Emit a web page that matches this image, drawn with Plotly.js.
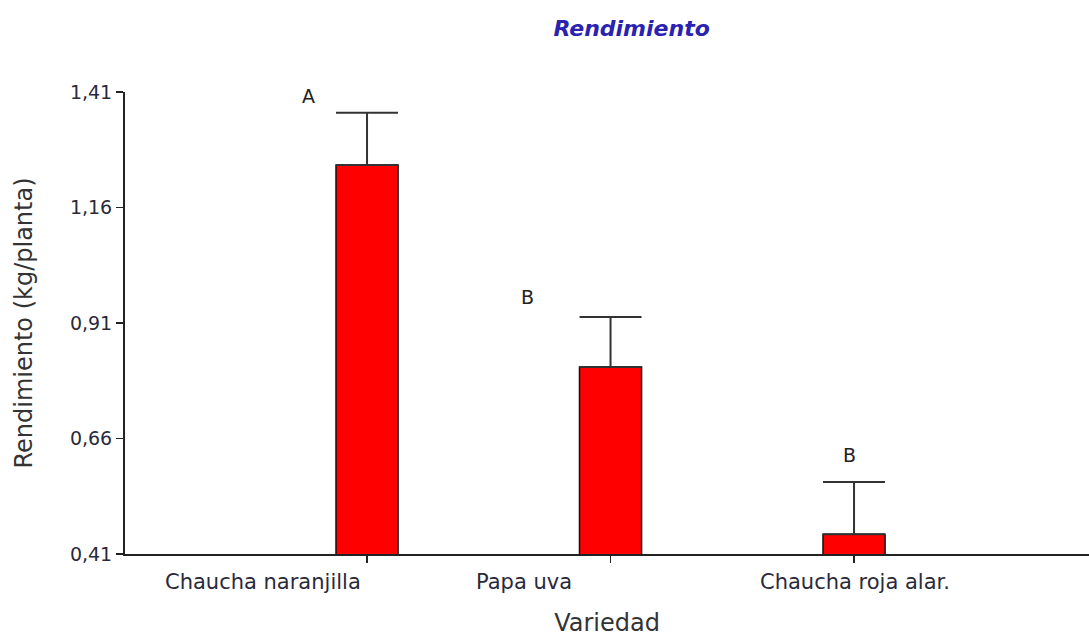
<!DOCTYPE html>
<html>
<head>
<meta charset="utf-8">
<script src="https://cdn.plot.ly/plotly-3.0.1.min.js"></script>
<style>html,body{margin:0;padding:0;background:#fff;}#chart{width:1089px;height:637px;}</style>
</head>
<body>
<div id="chart"></div>
<script>
const categories = ["Chaucha naranjilla", "Papa uva", "Chaucha roja alar."];
const means = [1.252, 0.815, 0.453];
const errors = [0.113, 0.108, 0.113];
const letters = ["A", "B", "B"];
const letterY = [1.401, 0.966, 0.624];
const yTicks = [0.41, 0.66, 0.91, 1.16, 1.41];
const yTickText = ["0,41", "0,66", "0,91", "1,16", "1,41"];

const FONT = "DejaVu Sans, Verdana, sans-serif";
const letterShift = [-59, -83, -5];
const labelShift = [-104, -87, 1];

const annotations = [];
letters.forEach((t, i) => {
  annotations.push({x: categories[i], y: letterY[i], xref: 'x', yref: 'y', text: t,
    showarrow: false, xshift: letterShift[i], font: {family: FONT, size: 19, color: '#222'}});
});
categories.forEach((c, i) => {
  annotations.push({x: c, y: 0, xref: 'x', yref: 'paper', text: c, showarrow: false,
    xshift: labelShift[i], yshift: -28, yanchor: 'middle',
    font: {family: FONT, size: 21, color: '#2a2a3a'}});
});

const trace = {
  type: 'bar', x: categories, y: means, base: 0,
  width: 0.255,
  marker: {color: '#ff0000', line: {color: '#111', width: 1.5}},
  error_y: {type: 'data', symmetric: false, array: errors, arrayminus: [0,0,0],
    color: '#333', thickness: 2, width: 31},
  hoverinfo: 'skip'
};

const layout = {
  width: 1089, height: 637,
  margin: {l: 125, r: 0, t: 92, b: 83},
  paper_bgcolor: '#fff', plot_bgcolor: '#fff',
  showlegend: false,
  title: {text: '<b><i>Rendimiento</i></b>', x: 0.58, xanchor: 'center', y: 0.955, yanchor: 'middle',
    font: {family: FONT, size: 22, color: '#2a22b0'}},
  xaxis: {
    type: 'category', range: [-0.994, 2.965],
    showline: true, linecolor: '#222', linewidth: 2,
    ticks: 'outside', ticklen: 7, tickwidth: 1.5, tickcolor: '#222',
    showticklabels: false, showgrid: false, zeroline: false, fixedrange: true,
    title: {text: 'Variedad', font: {family: FONT, size: 24, color: '#333'}, standoff: 52}
  },
  yaxis: {
    range: [0.41, 1.41], tickvals: yTicks, ticktext: yTickText,
    showline: true, linecolor: '#222', linewidth: 2,
    ticks: 'outside', ticklen: 7, tickwidth: 1.5, tickcolor: '#222',
    tickfont: {family: FONT, size: 19, color: '#2a2a3a'},
    showgrid: false, zeroline: false, fixedrange: true,
    title: {text: 'Rendimiento (kg/planta)', font: {family: FONT, size: 24, color: '#333'}, standoff: 30}
  },
  annotations: annotations
};

Plotly.newPlot('chart', [trace], layout, {displayModeBar: false, staticPlot: true});
</script>
</body>
</html>
